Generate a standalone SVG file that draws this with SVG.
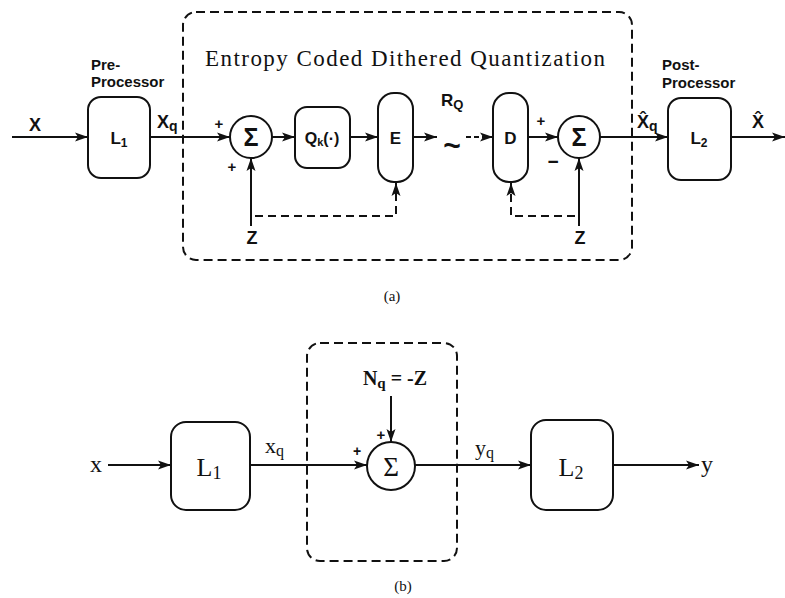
<svg xmlns="http://www.w3.org/2000/svg" width="785" height="598" viewBox="0 0 785 598">
<style>
.box{fill:none;stroke:#111;stroke-width:2}
.ln{fill:none;stroke:#111;stroke-width:2}
.dl{fill:none;stroke:#111;stroke-width:2;stroke-dasharray:8 5}
.db{fill:none;stroke:#111;stroke-width:2;stroke-dasharray:9 5}
.a{font-family:"Liberation Sans",Arial,sans-serif;font-weight:bold;fill:#111}
.s{font-family:"Liberation Serif","Times New Roman",serif;fill:#111}
</style>
<defs>
<marker id="ar" markerUnits="userSpaceOnUse" markerWidth="14" markerHeight="10" refX="13" refY="5" orient="auto">
<path d="M0,0.5 L13,5 L0,9.5 L3,5 Z" fill="#111"/>
</marker>
</defs>
<rect width="785" height="598" fill="#fff"/>

<!-- (a) -->
<rect id="ecdq-box" class="db" x="183" y="12" width="449" height="248" rx="13"/>
<text class="s" x="405" y="66" font-size="23" text-anchor="middle" textLength="400" lengthAdjust="spacing">Entropy  Coded  Dithered  Quantization</text>

<g id="connectors-a">
<line class="ln" x1="12" y1="137" x2="88" y2="137" marker-end="url(#ar)"/>
<line class="ln" x1="150" y1="137" x2="230" y2="137" marker-end="url(#ar)"/>
<line class="ln" x1="272" y1="137" x2="295" y2="137" marker-end="url(#ar)"/>
<line class="ln" x1="350" y1="137" x2="378" y2="137" marker-end="url(#ar)"/>
<line class="ln" x1="413" y1="137" x2="437" y2="137" marker-end="url(#ar)"/>
<line class="ln" x1="466" y1="137" x2="493" y2="137" stroke-dasharray="5 3" marker-end="url(#ar)"/>
<line class="ln" x1="528" y1="137" x2="558" y2="137" marker-end="url(#ar)"/>
<line class="ln" x1="600" y1="137" x2="668" y2="137" marker-end="url(#ar)"/>
<line class="ln" x1="731" y1="137" x2="785" y2="137" marker-end="url(#ar)"/>
<line class="ln" x1="251" y1="226" x2="251" y2="158" marker-end="url(#ar)"/>
<line class="ln" x1="579" y1="226" x2="579" y2="158" marker-end="url(#ar)"/>
<path class="dl" d="M255,216 H396 V183" marker-end="url(#ar)"/>
<path class="dl" d="M575,216 H511 V183" marker-end="url(#ar)"/>
</g>

<g id="L1a">
<rect class="box" x="88" y="97" width="62" height="81" rx="13"/>
<text class="a" x="119" y="144" font-size="17" text-anchor="middle">L<tspan font-size="12" dy="3">1</tspan></text>
<text class="a" x="91" y="70" font-size="15">Pre-</text>
<text class="a" x="91" y="87" font-size="15">Processor</text>
</g>
<g id="sum1">
<circle class="box" cx="251" cy="137" r="21"/>
<text class="a" x="251" y="146" font-size="25" text-anchor="middle">Σ</text>
<text class="a" x="219" y="129" font-size="15" text-anchor="middle">+</text>
<text class="a" x="232" y="172" font-size="15" text-anchor="middle">+</text>
</g>
<g id="Qk">
<rect class="box" x="295" y="107" width="55" height="61" rx="12"/>
<text class="a" x="322" y="144" font-size="16" text-anchor="middle">Q<tspan font-size="11" dy="2">k</tspan><tspan dy="-2">(·)</tspan></text>
</g>
<g id="E">
<rect class="box" x="378" y="93" width="35" height="89" rx="16"/>
<text class="a" x="395.5" y="144" font-size="17" text-anchor="middle">E</text>
</g>
<g id="channel">
<text class="a" x="441" y="106" font-size="17">R<tspan font-size="13" dy="3">Q</tspan></text>
<text class="a" x="452" y="156" font-size="30" text-anchor="middle">~</text>
</g>
<g id="D">
<rect class="box" x="493" y="93" width="35" height="89" rx="16"/>
<text class="a" x="510.5" y="144" font-size="17" text-anchor="middle">D</text>
</g>
<g id="sum2">
<circle class="box" cx="579" cy="137" r="21"/>
<text class="a" x="579" y="146" font-size="25" text-anchor="middle">Σ</text>
<text class="a" x="541" y="126" font-size="15" text-anchor="middle">+</text>
<text class="a" x="553" y="168" font-size="19" text-anchor="middle">−</text>
</g>
<g id="Z1"><text class="a" x="252" y="244" font-size="18" text-anchor="middle">Z</text></g>
<g id="Z2"><text class="a" x="580" y="244" font-size="18" text-anchor="middle">Z</text></g>
<g id="L2a">
<rect class="box" x="668" y="98" width="63" height="82" rx="13"/>
<text class="a" x="699" y="144" font-size="17" text-anchor="middle">L<tspan font-size="12" dy="3">2</tspan></text>
<text class="a" x="662" y="70" font-size="15">Post-</text>
<text class="a" x="662" y="88" font-size="15">Processor</text>
</g>
<g id="labels-a">
<text class="a" x="35" y="131" font-size="18" text-anchor="middle">X</text>
<text class="a" x="157" y="128" font-size="18">X<tspan font-size="14" dy="3">q</tspan></text>
<text class="a" x="637" y="128" font-size="18">X̂<tspan font-size="14" dy="3">q</tspan></text>
<text class="a" x="758" y="128" font-size="18" text-anchor="middle">X̂</text>
<text class="s" x="392" y="301" font-size="15" text-anchor="middle">(a)</text>
</g>

<!-- (b) -->
<rect id="noise-box" class="db" x="307" y="343" width="150" height="218" rx="13"/>
<g id="connectors-b">
<line class="ln" x1="108" y1="465" x2="171" y2="465" marker-end="url(#ar)"/>
<line class="ln" x1="250" y1="465" x2="367" y2="465" marker-end="url(#ar)"/>
<line class="ln" x1="391" y1="396" x2="391" y2="442" marker-end="url(#ar)"/>
<line class="ln" x1="415" y1="465" x2="531" y2="465" marker-end="url(#ar)"/>
<line class="ln" x1="613" y1="465" x2="699" y2="465" marker-end="url(#ar)"/>
</g>
<g id="L1b">
<rect class="box" x="171" y="422" width="79" height="88" rx="15"/>
<text class="s" x="209" y="476" font-size="26" text-anchor="middle">L<tspan font-size="18" dy="3">1</tspan></text>
</g>
<g id="sumb">
<circle class="box" cx="391" cy="466" r="24"/>
<text class="s" x="391" y="476" font-size="27" text-anchor="middle">Σ</text>
<text class="a" x="381" y="440" font-size="15" text-anchor="middle">+</text>
<text class="a" x="357" y="456" font-size="14" text-anchor="middle">+</text>
</g>
<g id="Nq">
<text class="s" x="395" y="385" font-size="20" font-weight="bold" text-anchor="middle">N<tspan font-size="15" dy="3">q</tspan><tspan dy="-3"> = -Z</tspan></text>
</g>
<g id="L2b">
<rect class="box" x="531" y="420" width="82" height="90" rx="15"/>
<text class="s" x="571" y="476" font-size="26" text-anchor="middle">L<tspan font-size="18" dy="3">2</tspan></text>
</g>
<g id="labels-b">
<text class="s" x="96" y="472" font-size="24" text-anchor="middle">x</text>
<text class="s" x="265" y="453" font-size="22">x<tspan font-size="16" dy="3">q</tspan></text>
<text class="s" x="475" y="455" font-size="22">y<tspan font-size="16" dy="3">q</tspan></text>
<text class="s" x="707" y="472" font-size="24" text-anchor="middle">y</text>
<text class="s" x="403" y="591" font-size="15" text-anchor="middle">(b)</text>
</g>
</svg>
